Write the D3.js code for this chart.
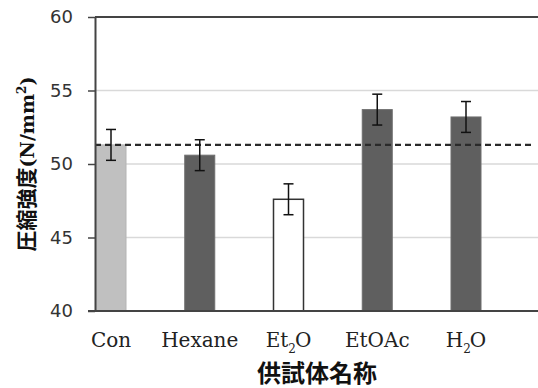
<!DOCTYPE html>
<html>
<head>
<meta charset="utf-8">
<script src="https://cdn.jsdelivr.net/npm/d3@7"></script>
<style>
  body { margin: 0; background: #fff; }
  svg { display: block; }
</style>
</head>
<body>
<script>
// data
var categories = ["Con", "Hexane", "Et2O", "EtOAc", "H2O"];
var means = [51.3, 50.6, 47.6, 53.7, 53.2];
var errors = [1.05, 1.05, 1.05, 1.05, 1.05];
var fills = ["#c0c0c0", "#5f5f5f", "#ffffff", "#5f5f5f", "#5f5f5f"];
var yTicks = [40, 45, 50, 55, 60];
var controlLine = 51.3;

var W = 538, H = 388;
var plotLeft = 95, plotRight = 538, plotTop = 17, plotBottom = 311;

var svg = d3.select("body").append("svg")
    .attr("width", W)
    .attr("height", H);

var x = d3.scalePoint().domain(categories).range([111, 466]);
var y = d3.scaleLinear().domain([40, 60]).range([plotBottom, plotTop]);
var barW = 30;

// gridlines
svg.append("g").selectAll("line")
    .data([45, 50, 55])
    .enter().append("line")
    .attr("x1", plotLeft).attr("x2", plotRight)
    .attr("y1", function (d) { return y(d); })
    .attr("y2", function (d) { return y(d); })
    .attr("stroke", "#d9d9d9")
    .attr("stroke-width", 1.5);

// top border at 60
svg.append("line")
    .attr("x1", plotLeft).attr("x2", plotRight)
    .attr("y1", y(60)).attr("y2", y(60))
    .attr("stroke", "#444").attr("stroke-width", 2);

// bars
svg.append("g").selectAll("rect")
    .data(categories)
    .enter().append("rect")
    .attr("x", function (d) { return x(d) - barW / 2; })
    .attr("y", function (d, i) { return y(means[i]); })
    .attr("width", barW)
    .attr("height", function (d, i) { return y(40) - y(means[i]); })
    .attr("fill", function (d, i) { return fills[i]; })
    .attr("stroke", function (d, i) { return i == 2 ? "#333" : (i == 0 ? "#b4b4b4" : "#6e6e6e"); })
    .attr("stroke-width", function (d, i) { return i == 2 ? 1.5 : 1; });

// control dashed line
svg.append("line")
    .attr("x1", plotLeft).attr("x2", 534)
    .attr("y1", y(controlLine)).attr("y2", y(controlLine))
    .attr("stroke", "#2a2a2a")
    .attr("stroke-width", 2.2)
    .attr("stroke-dasharray", "6,4");

// error bars
var eb = svg.append("g").selectAll("g")
    .data(categories)
    .enter().append("g")
    .attr("stroke", "#111")
    .attr("stroke-width", 1.5);

eb.append("line")
    .attr("x1", function (d) { return x(d); })
    .attr("x2", function (d) { return x(d); })
    .attr("y1", function (d, i) { return y(means[i] + errors[i]); })
    .attr("y2", function (d, i) { return y(means[i] - errors[i]); });

eb.append("line")
    .attr("x1", function (d) { return x(d) - 5; })
    .attr("x2", function (d) { return x(d) + 5; })
    .attr("y1", function (d, i) { return y(means[i] + errors[i]); })
    .attr("y2", function (d, i) { return y(means[i] + errors[i]); });

eb.append("line")
    .attr("x1", function (d) { return x(d) - 5; })
    .attr("x2", function (d) { return x(d) + 5; })
    .attr("y1", function (d, i) { return y(means[i] - errors[i]); })
    .attr("y2", function (d, i) { return y(means[i] - errors[i]); });

// y axis
var yAxis = d3.axisLeft(y).tickValues(yTicks).tickSize(7).tickPadding(15).tickSizeOuter(0);
var ga = svg.append("g")
    .attr("transform", "translate(" + plotLeft + ",0)")
    .call(yAxis);
ga.select(".domain").attr("stroke", "#444").attr("stroke-width", 2);
ga.selectAll(".tick line").attr("stroke", "#444").attr("stroke-width", 1.5);
ga.selectAll(".tick text")
    .attr("font-family", "DejaVu Sans")
    .attr("font-size", 18)
    .attr("fill", "#333");

// bottom axis line
svg.append("line")
    .attr("x1", 88).attr("x2", plotRight)
    .attr("y1", plotBottom).attr("y2", plotBottom)
    .attr("stroke", "#444").attr("stroke-width", 2);

// x labels with subscripts
var labelParts = {
    "Con": [["Con", 0]],
    "Hexane": [["Hexane", 0]],
    "Et2O": [["Et", 0], ["2", 1], ["O", 2]],
    "EtOAc": [["EtOAc", 0]],
    "H2O": [["H", 0], ["2", 1], ["O", 2]]
};

svg.append("g").selectAll("text")
    .data(categories)
    .enter().append("text")
    .attr("x", function (d) { return x(d); })
    .attr("y", 347)
    .attr("text-anchor", "middle")
    .attr("font-family", "DejaVu Serif")
    .attr("font-size", 20)
    .attr("fill", "#222")
    .each(function (d) {
        var t = d3.select(this);
        labelParts[d].forEach(function (p) {
            var s = t.append("tspan").text(p[0]);
            if (p[1] == 1) s.attr("font-size", 12).attr("dy", 6);
            if (p[1] == 2) s.attr("dy", -6).attr("dx", -1);
        });
    });

// x title
svg.append("text")
    .attr("x", 317)
    .attr("y", 382)
    .attr("text-anchor", "middle")
    .attr("font-family", "Noto Sans CJK JP")
    .attr("font-weight", "bold")
    .attr("font-size", 24)
    .attr("fill", "#111")
    .text("供試体名称");

// y title
var yt = svg.append("text")
    .attr("transform", "translate(34,164) rotate(-90)")
    .attr("text-anchor", "middle")
    .attr("font-family", "Noto Sans CJK JP")
    .attr("font-weight", "bold")
    .attr("font-size", 21)
    .attr("fill", "#111");
yt.append("tspan").text("圧縮強度");
yt.append("tspan").attr("font-family", "DejaVu Serif").attr("font-size", 19).text("(N/mm");
yt.append("tspan").attr("font-family", "DejaVu Serif").attr("font-size", 12).attr("dy", -8).text("2");
yt.append("tspan").attr("font-family", "DejaVu Serif").attr("font-size", 19).attr("dy", 8).text(")");
</script>
</body>
</html>
